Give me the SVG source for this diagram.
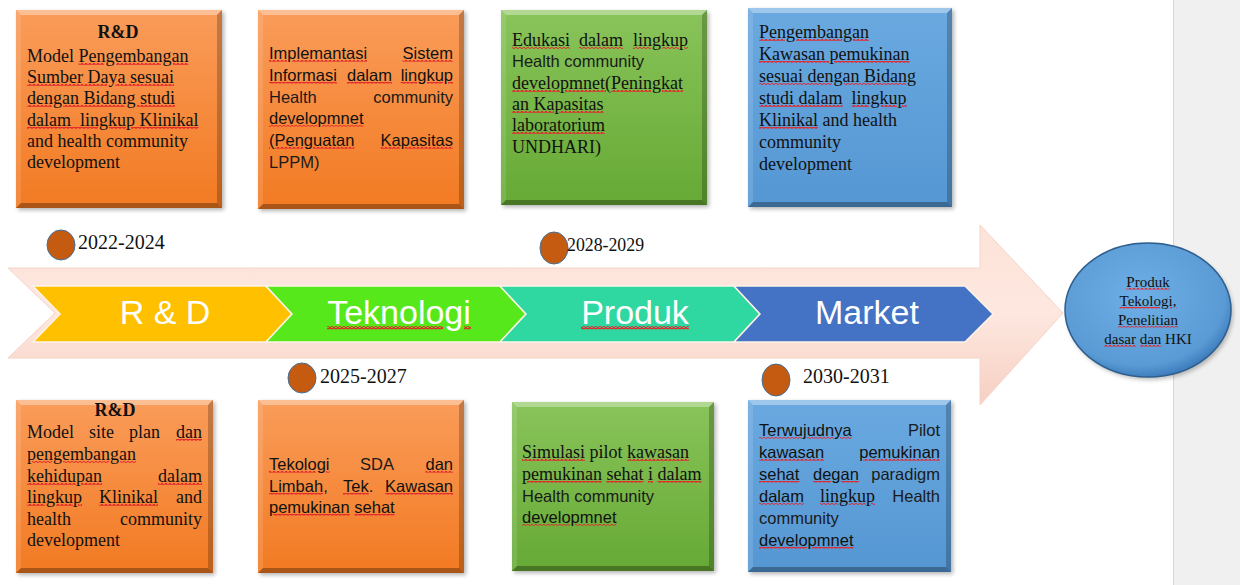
<svg xmlns="http://www.w3.org/2000/svg" width="1240" height="585" viewBox="0 0 1240 585">
<style>
.sr{font-family:"Liberation Serif","Times New Roman",serif;font-size:18px;fill:#111}
.sb{font-family:"Liberation Serif","Times New Roman",serif;font-size:18px;font-weight:bold;fill:#111}
.ss{font-family:"Liberation Sans",Arial,sans-serif;font-size:16.5px;fill:#1a1a1a}
.chev{font-family:"Liberation Sans",Arial,sans-serif;font-size:34px;fill:#fff;text-anchor:middle}
.yr{font-family:"Liberation Serif","Times New Roman",serif;font-size:20px;fill:#111}
.el{font-family:"Liberation Serif","Times New Roman",serif;font-size:15px;fill:#111;text-anchor:middle}
.sp{text-decoration:underline;fill:url(#wv);text-decoration-thickness:3px;text-underline-offset:2px;text-decoration-skip-ink:none}
.sp>tspan{fill:#111}
.chev .sp>tspan{fill:#fff}
.e{text-anchor:end}
.dot{fill:#c55a11;stroke:#41719c;stroke-width:1}
.hl{fill:#fff;opacity:.35}
.hl2{fill:#fff;opacity:.12}
.dk{fill:#000;opacity:.22}
.dk2{fill:#000;opacity:.3}
.cv{stroke:#fdf3e6;stroke-width:1.5}
</style>
<defs>
<pattern id="wv" patternUnits="userSpaceOnUse" width="4" height="3"><polyline points="0,2.6 2,0.4 4,2.6" fill="none" stroke="#e3262b" stroke-width="1.6"/></pattern>
<linearGradient id="gOr" x1="0" y1="0" x2="0" y2="1"><stop offset="0" stop-color="#fa9c5a"/><stop offset="1" stop-color="#f27a22"/></linearGradient>
<linearGradient id="gGr" x1="0" y1="0" x2="0" y2="1"><stop offset="0" stop-color="#89c45a"/><stop offset="1" stop-color="#66a935"/></linearGradient>
<linearGradient id="gBl" x1="0" y1="0" x2="0" y2="1"><stop offset="0" stop-color="#6aa9e0"/><stop offset="1" stop-color="#5597d3"/></linearGradient>
<linearGradient id="gAr" x1="0" y1="0" x2="0" y2="1"><stop offset="0" stop-color="#fde3d9"/><stop offset=".5" stop-color="#fde7df"/><stop offset="1" stop-color="#f7cfc2"/></linearGradient>
<radialGradient id="gEl" cx=".45" cy=".4" r=".6"><stop offset="0" stop-color="#6dafe6"/><stop offset=".85" stop-color="#5b9bd5"/><stop offset="1" stop-color="#3f7fbf"/></radialGradient>
<filter id="sh" x="-10%" y="-10%" width="130%" height="130%"><feGaussianBlur stdDeviation="2"/></filter>
</defs>

<rect x="1173" y="0" width="67" height="585" fill="#f0f0f0"/>
<line x1="1173.5" y1="0" x2="1173.5" y2="585" stroke="#d6d6d6"/>

<g id="arrow">
<polygon points="8,268 980,268 980,225 1063,313 980,405 980,358 8,358 55,313" fill="url(#gAr)" stroke="#f6d3c7" stroke-width="1"/>
</g>

<g id="chevrons">
<g id="chev-rd"><polygon class="cv" points="33,286 266,286 292,314 266,342 33,342 60,314" fill="#ffc000"/><text class="chev" x="165" y="324">R &amp; D</text></g>
<g id="chev-tek"><polygon class="cv" points="266,286 500,286 526,314 500,342 266,342 292,314" fill="#57e81b"/><text class="chev" x="399" y="324"><tspan class="sp"><tspan>Teknologi</tspan></tspan></text></g>
<g id="chev-pro"><polygon class="cv" points="500,286 734,286 760,314 734,342 500,342 526,314" fill="#2fd8a0"/><text class="chev" x="635" y="324"><tspan class="sp"><tspan>Produk</tspan></tspan></text></g>
<g id="chev-mkt"><polygon class="cv" points="734,286 965,286 993,314 965,342 734,342 760,314" fill="#4472c4"/><text class="chev" x="867" y="324">Market</text></g>
</g>

<g id="years">
<g id="y1"><ellipse class="dot" cx="61" cy="245" rx="14" ry="15"/><text class="yr" x="78" y="249">2022-2024</text></g>
<g id="y2"><ellipse class="dot" cx="302" cy="378" rx="14" ry="15"/><text class="yr" x="320" y="383">2025-2027</text></g>
<g id="y3"><ellipse class="dot" cx="554" cy="248" rx="14" ry="16"/><text class="yr" x="567" y="251" style="font-size:17.8px">2028-2029</text></g>
<g id="y4"><ellipse class="dot" cx="776" cy="380" rx="14" ry="16"/><text class="yr" x="803" y="383">2030-2031</text></g>
</g>

<g id="result">
<ellipse cx="1150" cy="313" rx="83" ry="67" fill="#000" opacity=".25" filter="url(#sh)"/>
<ellipse cx="1148" cy="310" rx="83" ry="67" fill="url(#gEl)" stroke="#2e5f8e" stroke-width="1.5"/>
<text class="el" x="1148" y="287"><tspan class="sp"><tspan>Produk</tspan></tspan></text>
<text class="el" x="1148" y="306"><tspan class="sp"><tspan>Tekologi,</tspan></tspan></text>
<text class="el" x="1148" y="325"><tspan class="sp"><tspan>Penelitian</tspan></tspan></text>
<text class="el" x="1148" y="344"><tspan class="sp"><tspan>dasar</tspan></tspan> <tspan class="sp"><tspan>dan</tspan></tspan> HKI</text>
</g>

<!-- Box 1 -->
<g id="box1">
<rect x="18" y="12" width="206" height="198" fill="#000" opacity=".3" filter="url(#sh)"/>
<rect x="16" y="10" width="206" height="198" fill="url(#gOr)"/>
<polygon class="hl" points="16,10 222,10 217,15 21,15"/>
<polygon class="hl2" points="16,10 21,15 21,203 16,208"/>
<polygon class="dk" points="222,10 222,208 217,203 217,15"/>
<polygon class="dk2" points="16,208 21,203 217,203 222,208"/>
<text class="sb" x="118" y="38" text-anchor="middle">R&amp;D</text>
<text class="sr" x="27" y="62">Model <tspan class="sp"><tspan>Pengembangan</tspan></tspan></text>
<text class="sr" x="27" y="83"><tspan class="sp"><tspan>Sumber Daya sesuai</tspan></tspan></text>
<text class="sr" x="27" y="104"><tspan class="sp"><tspan>dengan Bidang studi</tspan></tspan></text>
<text class="sr" x="27" y="126" xml:space="preserve"><tspan class="sp"><tspan>dalam  lingkup Klinikal</tspan></tspan></text>
<text class="sr" x="27" y="147">and health community</text>
<text class="sr" x="27" y="168">development</text>
</g>

<!-- Box 2 -->
<g id="box2">
<rect x="260" y="12" width="206" height="199" fill="#000" opacity=".3" filter="url(#sh)"/>
<rect x="258" y="10" width="206" height="199" fill="url(#gOr)"/>
<polygon class="hl" points="258,10 464,10 459,15 263,15"/>
<polygon class="hl2" points="258,10 263,15 263,204 258,209"/>
<polygon class="dk" points="464,10 464,209 459,204 459,15"/>
<polygon class="dk2" points="258,209 263,204 459,204 464,209"/>
<text class="ss" x="269" y="59"><tspan class="sp"><tspan>Implemantasi</tspan></tspan></text>
<text class="ss e" x="453" y="59"><tspan class="sp"><tspan>Sistem</tspan></tspan></text>
<text class="ss" x="269" y="81"><tspan class="sp"><tspan>Informasi</tspan></tspan></text>
<text class="ss" x="347" y="81"><tspan class="sp"><tspan>dalam</tspan></tspan></text>
<text class="ss e" x="453" y="81"><tspan class="sp"><tspan>lingkup</tspan></tspan></text>
<text class="ss" x="269" y="103">Health</text>
<text class="ss e" x="453" y="103">community</text>
<text class="ss" x="269" y="124"><tspan class="sp"><tspan>developmnet</tspan></tspan></text>
<text class="ss" x="269" y="146"><tspan class="sp"><tspan>(Penguatan</tspan></tspan></text>
<text class="ss e" x="453" y="146"><tspan class="sp"><tspan>Kapasitas</tspan></tspan></text>
<text class="ss" x="269" y="168">LPPM)</text>
</g>

<!-- Box 3 -->
<g id="box3">
<rect x="503" y="12" width="206" height="195" fill="#000" opacity=".3" filter="url(#sh)"/>
<rect x="501" y="10" width="206" height="195" fill="url(#gGr)"/>
<polygon class="hl" points="501,10 707,10 702,15 506,15"/>
<polygon class="hl2" points="501,10 506,15 506,200 501,205"/>
<polygon class="dk" points="707,10 707,205 702,200 702,15"/>
<polygon class="dk2" points="501,205 506,200 702,200 707,205"/>
<text class="sr" x="512" y="46"><tspan class="sp"><tspan>Edukasi</tspan></tspan></text>
<text class="sr" x="579" y="46"><tspan class="sp"><tspan>dalam</tspan></tspan></text>
<text class="sr e" x="688" y="46"><tspan class="sp"><tspan>lingkup</tspan></tspan></text>
<text class="ss" x="512" y="67">Health community</text>
<text class="sr" x="512" y="89"><tspan class="sp"><tspan>developmnet(Peningkat</tspan></tspan></text>
<text class="sr" x="512" y="110"><tspan class="sp"><tspan>an Kapasitas</tspan></tspan></text>
<text class="sr" x="512" y="131"><tspan class="sp"><tspan>laboratorium</tspan></tspan></text>
<text class="sr" x="512" y="153">UNDHARI)</text>
</g>

<!-- Box 4 -->
<g id="box4">
<rect x="750" y="10" width="204" height="199" fill="#000" opacity=".3" filter="url(#sh)"/>
<rect x="748" y="8" width="204" height="199" fill="url(#gBl)"/>
<polygon class="hl" points="748,8 952,8 947,13 753,13"/>
<polygon class="hl2" points="748,8 753,13 753,202 748,207"/>
<polygon class="dk" points="952,8 952,207 947,202 947,13"/>
<polygon class="dk2" points="748,207 753,202 947,202 952,207"/>
<text class="sr" x="759" y="38"><tspan class="sp"><tspan>Pengembangan</tspan></tspan></text>
<text class="sr" x="759" y="60"><tspan class="sp"><tspan>Kawasan pemukinan</tspan></tspan></text>
<text class="sr" x="759" y="82"><tspan class="sp"><tspan>sesuai dengan Bidang</tspan></tspan></text>
<text class="sr" x="759" y="104" xml:space="preserve"><tspan class="sp"><tspan>studi dalam</tspan></tspan>  <tspan class="sp"><tspan>lingkup</tspan></tspan></text>
<text class="sr" x="759" y="126"><tspan class="sp"><tspan>Klinikal</tspan></tspan> and health</text>
<text class="sr" x="759" y="148">community</text>
<text class="sr" x="759" y="170">development</text>
</g>

<!-- Box 5 -->
<g id="box5">
<rect x="18" y="402" width="197" height="173" fill="#000" opacity=".3" filter="url(#sh)"/>
<rect x="16" y="400" width="197" height="173" fill="url(#gOr)"/>
<polygon class="hl" points="16,400 213,400 208,405 21,405"/>
<polygon class="hl2" points="16,400 21,405 21,568 16,573"/>
<polygon class="dk" points="213,400 213,573 208,568 208,405"/>
<polygon class="dk2" points="16,573 21,568 208,568 213,573"/>
<text class="sb" x="115" y="416" text-anchor="middle">R&amp;D</text>
<text class="sr" x="27" y="438">Model</text>
<text class="sr" x="89" y="438">site</text>
<text class="sr" x="129" y="438">plan</text>
<text class="sr e" x="202" y="438"><tspan class="sp"><tspan>dan</tspan></tspan></text>
<text class="sr" x="27" y="460"><tspan class="sp"><tspan>pengembangan</tspan></tspan></text>
<text class="sr" x="27" y="482"><tspan class="sp"><tspan>kehidupan</tspan></tspan></text>
<text class="sr e" x="202" y="482"><tspan class="sp"><tspan>dalam</tspan></tspan></text>
<text class="sr" x="27" y="503"><tspan class="sp"><tspan>lingkup</tspan></tspan></text>
<text class="sr" x="99" y="503"><tspan class="sp"><tspan>Klinikal</tspan></tspan></text>
<text class="sr e" x="202" y="503">and</text>
<text class="sr" x="27" y="525">health</text>
<text class="sr e" x="202" y="525">community</text>
<text class="sr" x="27" y="546">development</text>
</g>

<!-- Box 6 -->
<g id="box6">
<rect x="260" y="402" width="206" height="173" fill="#000" opacity=".3" filter="url(#sh)"/>
<rect x="258" y="400" width="206" height="173" fill="url(#gOr)"/>
<polygon class="hl" points="258,400 464,400 459,405 263,405"/>
<polygon class="hl2" points="258,400 263,405 263,568 258,573"/>
<polygon class="dk" points="464,400 464,573 459,568 459,405"/>
<polygon class="dk2" points="258,573 263,568 459,568 464,573"/>
<text class="ss" x="269" y="470"><tspan class="sp"><tspan>Tekologi</tspan></tspan></text>
<text class="ss" x="360" y="470">SDA</text>
<text class="ss e" x="453" y="470"><tspan class="sp"><tspan>dan</tspan></tspan></text>
<text class="ss" x="269" y="492"><tspan class="sp"><tspan>Limbah</tspan></tspan>,</text>
<text class="ss" x="343" y="492"><tspan class="sp"><tspan>Tek</tspan></tspan>.</text>
<text class="ss e" x="453" y="492"><tspan class="sp"><tspan>Kawasan</tspan></tspan></text>
<text class="ss" x="269" y="513"><tspan class="sp"><tspan>pemukinan</tspan></tspan> <tspan class="sp"><tspan>sehat</tspan></tspan></text>
</g>

<!-- Box 7 -->
<g id="box7">
<rect x="514" y="404" width="202" height="169" fill="#000" opacity=".3" filter="url(#sh)"/>
<rect x="512" y="402" width="202" height="169" fill="url(#gGr)"/>
<polygon class="hl" points="512,402 714,402 709,407 517,407"/>
<polygon class="hl2" points="512,402 517,407 517,566 512,571"/>
<polygon class="dk" points="714,402 714,571 709,566 709,407"/>
<polygon class="dk2" points="512,571 517,566 709,566 714,571"/>
<text class="sr" x="522" y="458"><tspan class="sp"><tspan>Simulasi</tspan></tspan> pilot <tspan class="sp"><tspan>kawasan</tspan></tspan></text>
<text class="sr" x="522" y="480"><tspan class="sp"><tspan>pemukinan</tspan></tspan> <tspan class="sp"><tspan>sehat</tspan></tspan> <tspan class="sp"><tspan>i</tspan></tspan> <tspan class="sp"><tspan>dalam</tspan></tspan></text>
<text class="ss" x="522" y="502">Health community</text>
<text class="ss" x="522" y="523"><tspan class="sp"><tspan>developmnet</tspan></tspan></text>
</g>

<!-- Box 8 -->
<g id="box8">
<rect x="750" y="402" width="203" height="172" fill="#000" opacity=".3" filter="url(#sh)"/>
<rect x="748" y="400" width="203" height="172" fill="url(#gBl)"/>
<polygon class="hl" points="748,400 951,400 946,405 753,405"/>
<polygon class="hl2" points="748,400 753,405 753,567 748,572"/>
<polygon class="dk" points="951,400 951,572 946,567 946,405"/>
<polygon class="dk2" points="748,572 753,567 946,567 951,572"/>
<text class="ss" x="759" y="436"><tspan class="sp"><tspan>Terwujudnya</tspan></tspan></text>
<text class="ss e" x="940" y="436">Pilot</text>
<text class="ss" x="759" y="458"><tspan class="sp"><tspan>kawasan</tspan></tspan></text>
<text class="ss e" x="940" y="458"><tspan class="sp"><tspan>pemukinan</tspan></tspan></text>
<text class="ss" x="759" y="480"><tspan class="sp"><tspan>sehat</tspan></tspan></text>
<text class="ss" x="813" y="480"><tspan class="sp"><tspan>degan</tspan></tspan></text>
<text class="ss e" x="940" y="480">paradigm</text>
<text class="ss" x="759" y="502"><tspan class="sp"><tspan>dalam</tspan></tspan></text>
<text class="sr" x="820" y="502"><tspan class="sp"><tspan>lingkup</tspan></tspan></text>
<text class="ss e" x="940" y="502">Health</text>
<text class="ss" x="759" y="524">community</text>
<text class="ss" x="759" y="546"><tspan class="sp"><tspan>developmnet</tspan></tspan></text>
</g>
</svg>
